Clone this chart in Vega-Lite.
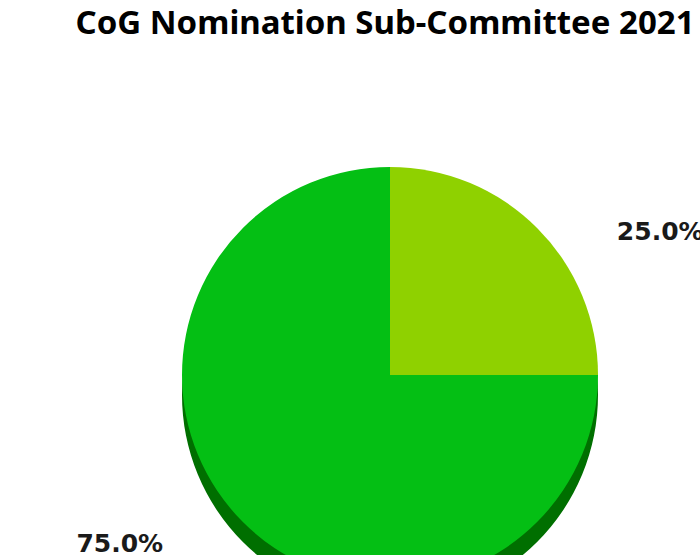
{
  "$schema": "https://vega.github.io/schema/vega-lite/v6.json",
  "width": 780,
  "height": 630,
  "autosize": {"type": "none"},
  "padding": {"left": 0, "top": 60, "right": 0, "bottom": 0},
  "background": "white",
  "title": {
    "text": "CoG Nomination Sub-Committee 2021",
    "font": "Noto Sans",
    "fontSize": 33,
    "fontWeight": "bold",
    "color": "#000000",
    "anchor": "middle",
    "dx": -5,
    "offset": 19
  },
  "data": {
    "values": [
      {"segment": "Segment 1", "share": 25, "label": "25.0%"},
      {"segment": "Segment 2", "share": 75, "label": "75.0%"}
    ]
  },
  "encoding": {
    "theta": {"field": "share", "type": "quantitative", "stack": true},
    "order": {"field": "share", "sort": "ascending"}
  },
  "layer": [
    {
      "mark": {"type": "arc", "radius": 208, "yOffset": 20, "color": "#006F00"}
    },
    {
      "mark": {"type": "arc", "radius": 208},
      "encoding": {
        "color": {
          "field": "segment",
          "type": "nominal",
          "scale": {"domain": ["Segment 1", "Segment 2"], "range": ["#8FD100", "#04BF14"]},
          "legend": null
        }
      }
    },
    {
      "mark": {
        "type": "text",
        "radius": 312,
        "thetaOffset": 0.2618,
        "dy": 13,
        "align": "center",
        "baseline": "middle",
        "font": "DejaVu Sans",
        "fontWeight": "bold",
        "fontSize": 25,
        "color": "#1a1a1a"
      },
      "encoding": {"text": {"field": "label"}}
    }
  ],
  "config": {"view": {"stroke": null}}
}
